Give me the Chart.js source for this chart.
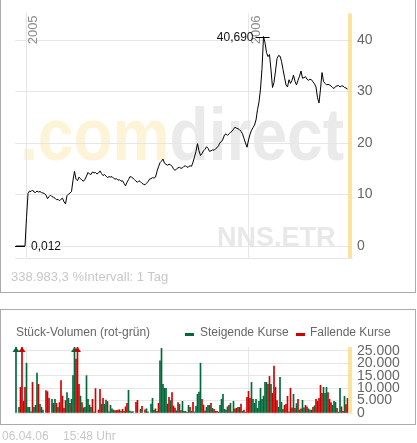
<!DOCTYPE html>
<html><head><meta charset="utf-8">
<script src="https://cdn.jsdelivr.net/npm/chart.js@4"></script>
<style>
html,body{margin:0;padding:0;background:#fff;}
body{width:417px;height:443px;position:relative;overflow:hidden;font-family:'Liberation Sans',Arial,Helvetica,sans-serif;}
canvas{position:absolute;left:0;top:0;}
.box{position:absolute;border:1px solid #aaa;box-sizing:border-box;}
.t{position:absolute;white-space:nowrap;line-height:1;}
.dash{position:absolute;width:9px;height:3px;}
</style></head><body>
<div class="box" style="left:0;top:-2px;width:416px;height:295px;"></div>
<div class="box" style="left:0;top:309px;width:416px;height:116px;"></div>
<canvas id="priceChart" width="417" height="443"></canvas>
<canvas id="volChart" width="417" height="443"></canvas>
<div class="t" style="left:11px;top:270px;font-size:13px;color:#c8c8c8;">338.983,3 %</div>
<div class="t" style="left:84px;top:270px;font-size:13px;color:#c8c8c8;">Intervall: 1 Tag</div>
<div class="t" style="left:16px;top:326px;font-size:12px;color:#666;">Stück-Volumen (rot-grün)</div>
<div class="dash" style="left:185px;top:333px;background:#00693a;"></div>
<div class="t" style="left:200px;top:326px;font-size:12px;color:#666;">Steigende Kurse</div>
<div class="dash" style="left:296px;top:333px;background:#d00000;"></div>
<div class="t" style="left:310px;top:326px;font-size:12px;color:#666;">Fallende Kurse</div>
<div class="t" style="left:2px;top:430px;font-size:12px;color:#c8c8c8;">06.04.06</div>
<div class="t" style="left:63px;top:430px;font-size:12px;color:#c8c8c8;">15:48 Uhr</div>
<script>
// ---- data ----
const priceValues = [
0.012,0.012,0.012,0.012,0.012,0.012,0.012,5.5,10.2,10.7,
10.6,10.9,10.5,10.4,10.7,10.5,10.6,10.4,10.3,10.2,
9.9,9.2,9.6,9.9,9.6,9.5,9.3,9.0,9.1,8.8,
9.1,9.3,8.6,8.2,9.8,10.1,10.3,10.6,12.8,14.5,
13.0,12.7,13.4,13.1,12.8,12.6,13.0,13.6,14.3,14.0,
13.9,14.4,14.2,14.3,14.0,14.2,14.6,14.1,13.7,13.9,
13.6,13.3,13.5,13.4,13.5,13.2,13.0,13.1,12.8,12.9,
12.6,12.7,12.2,11.7,12.4,12.9,13.5,13.4,13.2,12.9,
12.6,12.4,12.7,12.5,12.2,12.0,11.9,12.2,12.5,13.0,
13.1,13.3,13.2,13.4,14.5,15.4,16.2,16.5,16.9,16.1,
15.9,15.7,15.9,15.8,15.5,15.0,14.7,15.0,15.2,15.3,
15.1,15.2,15.5,15.6,15.3,15.4,15.6,15.5,16.3,17.3,
18.4,19.9,18.5,17.6,18.0,18.5,18.8,19.3,19.0,18.4,
18.5,18.7,18.6,18.9,19.1,19.5,20.1,20.3,20.8,21.6,
21.8,21.5,21.8,22.1,22.3,22.7,23.1,22.9,22.8,22.6,
22.3,21.8,20.9,20.0,19.2,20.6,21.7,22.5,23.0,23.5,
24.5,26.5,28.0,30.5,34.5,40.69,39.5,37.6,36.8,37.2,
34.2,30.8,31.8,34.0,36.4,37.0,36.9,35.9,34.3,32.8,
31.3,30.9,32.3,31.6,32.2,33.2,32.0,31.3,32.2,33.0,
34.0,32.6,32.7,32.9,32.4,32.2,32.4,32.3,31.9,31.5,
30.9,28.8,27.8,30.5,33.7,32.0,31.6,31.3,31.4,31.3,
31.1,30.8,30.6,31.0,31.1,31.2,30.9,31.1,31.1,30.8,
30.7,30.5
];
const volumeValues = [
40000,0,2300,10300,35000,4700,10300,20000,2300,2300,
500,12300,2300,3100,16000,11500,3500,2300,1200,0,
9000,8600,5900,0,5500,3900,5500,3900,2300,4200,
13000,6800,1900,5000,8200,5900,3900,5500,15000,32000,
21600,30000,11500,6800,4200,2100,2300,15000,5500,3200,
2300,5500,500,9800,0,1200,9500,3500,5900,3500,
5200,4600,500,3100,1700,1200,1000,1000,1200,1300,
700,1500,700,2500,3900,9100,800,500,600,0,
4300,5100,0,1500,2700,0,1300,1700,500,0,
3600,5900,1200,1700,700,3900,20900,26000,11500,9900,
9900,3600,6300,5000,8200,2800,2000,900,4200,3500,
1000,4700,700,700,300,3100,2300,700,4300,400,
2700,7500,8400,20000,5500,3200,800,2300,3100,3100,
3900,1900,1500,700,700,400,3100,5500,7500,1500,
1200,2500,3100,3900,500,4700,1700,1900,2300,2300,
3600,700,1200,300,6300,8700,5900,12300,5500,3900,
5500,1900,4700,9900,5500,6800,12300,12300,11500,14700,
11500,7900,18800,10300,5000,2300,14300,4300,1500,3100,
3500,6700,500,9900,2100,7500,1900,3800,5500,1200,
1700,5100,2100,3100,2500,1700,1200,1200,2300,2900,
5500,4700,5900,11100,7900,10300,7900,10300,8200,5500,
4200,3100,4700,4300,1900,400,9900,2500,700,6700,
3400,5900
];
// u = rising day (green), d = falling day (red)
const volumeDirection = [
'u','u','u','d','d','d','d','u','u','u',
'u','d','u','u','u','d','u','d','u','u',
'd','d','d','d','u','d','u','d','u','d',
'd','d','d','d','u','u','d','u','u','u',
'd','d','d','u','d','d','u','u','u','d',
'u','d','u','d','d','d','d','u','d','u',
'u','d','u','u','u','u','d','d','d','d',
'u','d','u','d','d','u','u','u','u','u',
'd','d','d','u','d','d','d','u','u','u',
'u','u','d','u','u','d','u','u','u','u',
'u','d','d','u','d','d','d','u','d','u',
'd','u','u','u','d','u','d','u','d','u',
'u','u','u','u','d','d','d','u','u','u',
'd','u','d','d','d','u','u','u','u','u',
'u','u','d','u','u','u','d','d','u','d',
'd','u','d','d','d','d','d','u','u','u',
'u','u','u','u','u','u','u','u','d','d',
'u','d','d','d','d','u','u','u','u','d',
'd','d','u','d','d','u','d','u','d','u',
'd','u','u','d','d','u','u','d','d','u',
'd','d','d','d','d','u','u','u','d','d',
'd','u','u','u','d','u','u','d','d','u',
'd','d'
];
const yearLabels = ['2005', '2006'];
const yearPositions = [6.67, 155.33];
const priceTicks = [0, 10, 20, 30, 40];
const volumeTicks = [0, 5000, 10000, 15000, 20000, 25000];

// ---- helpers ----
const FONT = "'Liberation Sans', Arial, Helvetica, sans-serif";
Chart.defaults.font.family = FONT;
Chart.defaults.animation = false;
const GRID = '#e6e6e6';
const UP = '#00693a', DOWN = '#d00000';
const fmtDE = v => String(v).replace(/\B(?=(\d{3})+(?!\d))/g, '.');

const yellowBand = {
  id: 'yellowBand',
  afterDatasetsDraw(chart) {
    const {ctx, chartArea: a} = chart;
    ctx.save();
    ctx.fillStyle = 'rgba(251,218,120,0.72)';
    ctx.fillRect(a.right - 4, a.top, 4, a.bottom - a.top);
    ctx.restore();
  }
};

const watermark = {
  id: 'watermark',
  beforeDraw(chart) {
    const {ctx, chartArea: a} = chart;
    ctx.save();
    ctx.font = 'bold 74px ' + FONT;
    const w1 = ctx.measureText('.com').width, w2 = ctx.measureText('direct').width;
    const sx = 324 / (w1 + w2);
    ctx.translate(a.left + 5, 160);
    ctx.scale(sx, 1);
    ctx.textBaseline = 'alphabetic';
    ctx.fillStyle = '#fdf3d6';
    ctx.fillText('.com', 0, 0);
    ctx.fillStyle = '#eaeaea';
    ctx.fillText('direct', w1, 0);
    ctx.restore();
    ctx.save();
    ctx.font = 'bold 27px ' + FONT;
    ctx.fillStyle = '#e8e8e8';
    ctx.textBaseline = 'alphabetic';
    ctx.fillText('NNS.ETR', 217, 246);
    ctx.restore();
  }
};

const yearText = {
  id: 'yearText',
  beforeDatasetsDraw(chart) {
    const {ctx, chartArea: a} = chart;
    const xs = chart.scales.x;
    ctx.save();
    ctx.font = '13px ' + FONT;
    ctx.fillStyle = '#8c8c8c';
    yearPositions.forEach((p, k) => {
      const px = xs.getPixelForValue(p);
      ctx.save();
      ctx.translate(px + 1, a.top + 2);
      ctx.rotate(-Math.PI / 2);
      ctx.textAlign = 'right';
      ctx.textBaseline = 'top';
      ctx.fillText(yearLabels[k], 0, 0);
      ctx.restore();
    });
    ctx.restore();
  }
};

const extremes = {
  id: 'extremes',
  afterDatasetsDraw(chart) {
    const {ctx} = chart;
    const xs = chart.scales.x, ys = chart.scales.y;
    let maxI = 0, minI = 0;
    priceValues.forEach((v, i) => {
      if (v > priceValues[maxI]) maxI = i;
      if (v <= priceValues[minI]) minI = i;
    });
    const fmt = v => v.toFixed(3).replace('.', ',');
    ctx.save();
    ctx.strokeStyle = '#000';
    ctx.lineWidth = 1;
    ctx.font = '12px ' + FONT;
    ctx.fillStyle = '#111';
    ctx.textBaseline = 'middle';
    let px = xs.getPixelForValue(maxI), py = Math.round(ys.getPixelForValue(priceValues[maxI])) + 0.5;
    ctx.beginPath(); ctx.moveTo(px - 8, py); ctx.lineTo(px + 6, py); ctx.stroke();
    ctx.textAlign = 'right';
    ctx.fillText(fmt(priceValues[maxI]), px - 10, py);
    px = xs.getPixelForValue(minI); py = Math.round(ys.getPixelForValue(priceValues[minI])) + 0.5;
    ctx.beginPath(); ctx.moveTo(px - 10, py); ctx.lineTo(px, py); ctx.stroke();
    ctx.textAlign = 'left';
    ctx.fillText(fmt(priceValues[minI]), px + 6, py);
    ctx.restore();
  }
};

const overflowArrows = {
  id: 'overflowArrows',
  afterDatasetsDraw(chart) {
    const {ctx, chartArea: a} = chart;
    const max = chart.scales.y.max;
    chart.data.datasets.forEach((ds, di) => {
      const meta = chart.getDatasetMeta(di);
      meta.data.forEach((el, i) => {
        const v = ds.data[i] && ds.data[i].y;
        if (v != null && v > max) {
          ctx.save();
          ctx.fillStyle = ds.backgroundColor;
          ctx.beginPath();
          ctx.moveTo(el.x, a.top);
          ctx.lineTo(el.x - 3.5, a.top + 5);
          ctx.lineTo(el.x + 3.5, a.top + 5);
          ctx.closePath();
          ctx.fill();
          ctx.restore();
        }
      });
    });
  }
};

function xScale() {
  return {
    type: 'linear', min: -0.667, max: 224, offset: false,
    grid: {color: GRID, drawTicks: false, offset: false},
    border: {display: true, color: GRID},
    ticks: {display: false},
    afterBuildTicks: s => { s.ticks = yearPositions.map(v => ({value: v})); },
    afterFit: s => { s.height = 0; }
  };
}

new Chart(document.getElementById('priceChart'), {
  type: 'line',
  data: {
    datasets: [{
      data: priceValues.map((v, i) => ({x: i, y: v})),
      borderColor: '#000', borderWidth: 1, pointRadius: 0, tension: 0, fill: false
    }]
  },
  options: {
    responsive: false,
    layout: {padding: {left: 15, top: 11, right: 0, bottom: 185}},
    plugins: {legend: {display: false}, tooltip: {enabled: false}},
    scales: {
      x: xScale(),
      y: {
        position: 'right', min: -2.31, max: 45.19,
        grid: {color: GRID, drawTicks: false},
        border: {display: false},
        ticks: {color: '#666', font: {size: 14}, padding: 5, autoSkip: false},
        afterBuildTicks: s => { s.ticks = priceTicks.map(v => ({value: v})); },
        afterFit: s => { s.width = 65; }
      }
    }
  },
  plugins: [watermark, yearText, extremes, yellowBand]
});

const upData = volumeValues.map((v, i) => ({x: i, y: (volumeDirection[i] === 'u' && v > 0) ? v : null}));
const downData = volumeValues.map((v, i) => ({x: i, y: (volumeDirection[i] !== 'u' && v > 0) ? v : null}));

new Chart(document.getElementById('volChart'), {
  type: 'bar',
  data: {
    datasets: [
      {label: 'Steigende Kurse', data: upData, backgroundColor: UP, barThickness: 1, grouped: false, borderWidth: 0},
      {label: 'Fallende Kurse', data: downData, backgroundColor: DOWN, barThickness: 1, grouped: false, borderWidth: 0}
    ]
  },
  options: {
    responsive: false,
    layout: {padding: {left: 15, top: 347, right: 0, bottom: 30}},
    plugins: {legend: {display: false}, tooltip: {enabled: false}},
    scales: {
      x: xScale(),
      y: {
        position: 'right', min: 0, max: 26500,
        grid: {color: GRID, drawTicks: false},
        border: {display: false},
        ticks: {color: '#666', font: {size: 14}, padding: 5, autoSkip: false, callback: v => fmtDE(v)},
        afterBuildTicks: s => { s.ticks = volumeTicks.map(v => ({value: v})); },
        afterFit: s => { s.width = 65; }
      }
    }
  },
  plugins: [overflowArrows, yellowBand]
});
</script>
</body></html>
